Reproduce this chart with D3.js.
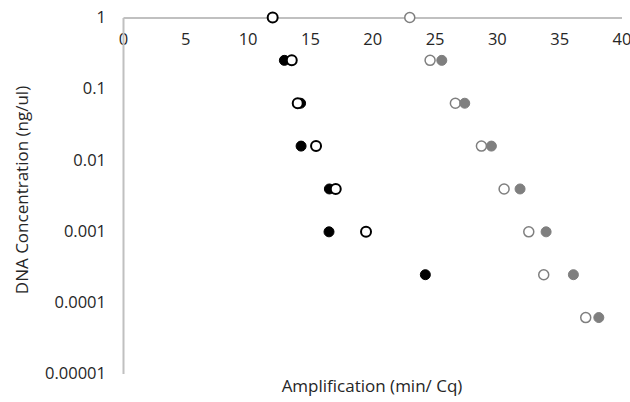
<!DOCTYPE html>
<html>
<head>
<meta charset="utf-8">
<script src="https://cdn.jsdelivr.net/npm/d3@7"></script>
<style>
  html, body { margin: 0; padding: 0; background: #fff; }
  svg { display: block; }
  text { font-family: "Open Sans", "DejaVu Sans", sans-serif; fill: #262626; }
</style>
</head>
<body>
<svg id="chart" width="630" height="402"></svg>
<script>
// Concentrations (ng/ul), 4-fold dilution series
const concentrations = [1, 0.25, 0.0625, 0.015625, 0.00390625, 0.0009765625, 0.000244140625, 0.00006103515625];

// Amplification values (min / Cq); null = no point
const blackFilled = [null, 12.95, 14.25, 14.29, 16.56, 16.53, 24.26, null];
const blackOpen   = [12.01, 13.54, 14.02, 15.49, 17.07, 19.50, null, null];
const grayOpen    = [23.01, 24.64, 26.67, 28.76, 30.58, 32.56, 33.76, 37.13];
const grayFilled  = [null, 25.58, 27.42, 29.56, 31.86, 33.95, 36.14, 38.18];

const xTicks = [0, 5, 10, 15, 20, 25, 30, 35, 40];
const yTicks = [1, 0.1, 0.01, 0.001, 0.0001, 0.00001];
const yTickLabels = ["1", "0.1", "0.01", "0.001", "0.0001", "0.00001"];

const svg = d3.select("#chart");
const x = d3.scaleLinear().domain([0, 40]).range([123, 621.5]);
const y = d3.scaleLog().domain([0.00001, 1]).range([373.5, 17.5]);

const axisColor = "#c0c0c0";

// X axis at top (value 1)
const xAxis = svg.append("g")
  .attr("transform", `translate(0,${y(1)})`)
  .call(d3.axisBottom(x).tickValues(xTicks).tickSize(0).tickPadding(16).tickFormat(d3.format("d")));
xAxis.select(".domain").attr("stroke", axisColor).attr("stroke-width", 2);
xAxis.selectAll("text").style("font-size", "16.5px").attr("fill", "#262626");

// Y axis
const yAxis = svg.append("g")
  .attr("transform", `translate(${x(0)},0)`)
  .call(d3.axisLeft(y).tickValues(yTicks).tickSize(0).tickPadding(17)
    .tickFormat((d, i) => yTickLabels[i]));
yAxis.select(".domain").attr("stroke", axisColor).attr("stroke-width", 2);
yAxis.selectAll("text").style("font-size", "16.5px").attr("fill", "#262626");

// Titles
svg.append("text")
  .attr("x", 372).attr("y", 392)
  .attr("text-anchor", "middle")
  .style("font-size", "17px")
  .text("Amplification (min/ Cq)");

svg.append("text")
  .attr("transform", "translate(28,190) rotate(-90)")
  .attr("text-anchor", "middle")
  .style("font-size", "17px")
  .text("DNA Concentration (ng/ul)");

function drawSeries(values, fill, stroke, sw) {
  const pts = values.map((v, i) => ({ v, c: concentrations[i] })).filter(d => d.v !== null);
  svg.append("g").selectAll("circle").data(pts).join("circle")
    .attr("cx", d => x(d.v))
    .attr("cy", d => y(d.c))
    .attr("r", 5)
    .attr("fill", fill)
    .attr("stroke", stroke)
    .attr("stroke-width", sw);
}

drawSeries(blackFilled, "#000", "#000", 1);
drawSeries(blackOpen, "#fff", "#000", 2);
drawSeries(grayOpen, "#fff", "#7f7f7f", 1.5);
drawSeries(grayFilled, "#7f7f7f", "#7f7f7f", 1);
</script>
</body>
</html>
